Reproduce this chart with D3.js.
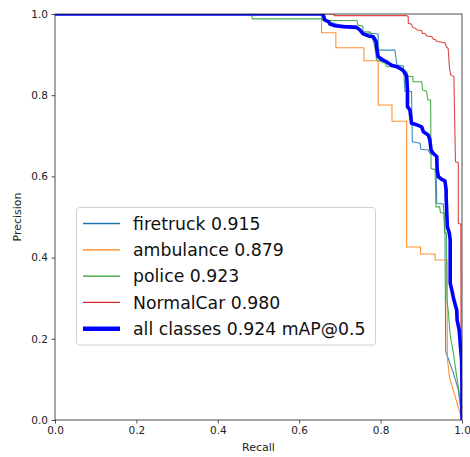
<!DOCTYPE html>
<html>
<head>
<meta charset="utf-8">
<script src="https://cdn.jsdelivr.net/npm/d3@7"></script>
<style>
  body { margin: 0; background: #fff; }
  text { font-family: "DejaVu Sans", sans-serif; }
</style>
</head>
<body>
<div id="chart"></div>
<script>
// values: [recall, precision]
var firetruck = [[0,1],[0.656,1],[0.658,0.985],[0.676,0.980],[0.700,0.973],[0.742,0.970],[0.754,0.953],[0.782,0.952],[0.794,0.951],[0.794,0.911],[0.835,0.911],[0.838,0.891],[0.840,0.874],[0.856,0.872],[0.860,0.809],[0.876,0.809],[0.878,0.685],[0.897,0.682],[0.899,0.667],[0.917,0.665],[0.921,0.657],[0.936,0.653],[0.938,0.534],[0.954,0.532],[0.958,0.476],[0.960,0.167],[0.966,0.152],[0.979,0.115],[0.991,0.074],[1,0]];
var ambulance = [[0,1],[0.655,1],[0.655,0.954],[0.690,0.954],[0.690,0.917],[0.759,0.917],[0.759,0.885],[0.794,0.885],[0.794,0.776],[0.828,0.776],[0.828,0.736],[0.864,0.736],[0.864,0.426],[0.898,0.426],[0.898,0.409],[0.934,0.409],[0.934,0.394],[0.963,0.394],[0.964,0.153],[0.969,0.106],[1,0]];
var police = [[0,1],[0.483,1],[0.485,0.988],[0.654,0.988],[0.661,0.984],[0.742,0.984],[0.744,0.973],[0.756,0.970],[0.757,0.956],[0.774,0.956],[0.778,0.948],[0.786,0.919],[0.790,0.887],[0.811,0.879],[0.815,0.870],[0.831,0.870],[0.852,0.866],[0.864,0.858],[0.868,0.846],[0.879,0.846],[0.880,0.833],[0.901,0.833],[0.903,0.813],[0.913,0.810],[0.916,0.788],[0.923,0.788],[0.924,0.620],[0.934,0.616],[0.936,0.525],[0.945,0.525],[0.947,0.511],[0.956,0.510],[0.957,0.463],[0.962,0.460],[0.963,0.296],[0.966,0.271],[0.971,0.209],[0.979,0.164],[0.987,0.107],[0.997,0.041],[1,0]];
var normalCar = [[0,1],[0.686,1],[0.686,0.996],[0.864,0.996],[0.868,0.993],[0.868,0.977],[0.876,0.975],[0.879,0.967],[0.885,0.965],[0.889,0.961],[0.901,0.959],[0.903,0.952],[0.909,0.952],[0.913,0.946],[0.926,0.944],[0.930,0.938],[0.936,0.936],[0.939,0.932],[0.958,0.929],[0.962,0.919],[0.966,0.915],[0.969,0.870],[0.972,0.850],[0.980,0.846],[0.984,0.636],[0.991,0.634],[0.991,0.484],[0.997,0.483],[0.998,0.012],[1,0]];
var allClasses = [[0,1],[0.656,1],[0.659,0.998],[0.663,0.985],[0.672,0.981],[0.676,0.975],[0.688,0.971],[0.708,0.969],[0.741,0.967],[0.749,0.961],[0.757,0.951],[0.770,0.946],[0.782,0.944],[0.789,0.932],[0.790,0.919],[0.794,0.895],[0.803,0.888],[0.813,0.883],[0.827,0.874],[0.840,0.870],[0.848,0.866],[0.854,0.862],[0.860,0.854],[0.864,0.846],[0.866,0.813],[0.866,0.772],[0.872,0.764],[0.876,0.731],[0.889,0.727],[0.901,0.722],[0.905,0.710],[0.917,0.702],[0.921,0.690],[0.924,0.665],[0.929,0.657],[0.938,0.649],[0.939,0.616],[0.942,0.599],[0.950,0.593],[0.958,0.589],[0.961,0.567],[0.961,0.550],[0.964,0.476],[0.969,0.460],[0.971,0.443],[0.971,0.337],[0.975,0.320],[0.980,0.296],[0.987,0.271],[0.988,0.246],[0.993,0.222],[0.997,0.172],[0.999,0.148],[1,0.081],[1,0]];

var classNames = ["firetruck", "ambulance", "police", "NormalCar"];
var classAP = [0.915, 0.879, 0.923, 0.980];
var mAP = 0.924;
var tickValues = [0, 0.2, 0.4, 0.6, 0.8, 1.0];

var colorPalette = ["#1f77b4", "#ff7f0e", "#2ca02c", "#d62728"];
var classCurves = [firetruck, ambulance, police, normalCar];

var width = 470, height = 457;
var margin = { top: 14, right: 8, bottom: 37, left: 55 };

var svg = d3.select("#chart")
    .append("svg")
    .attr("width", width)
    .attr("height", height);

var x = d3.scaleLinear().domain([0, 1]).range([margin.left, width - margin.right]);
var y = d3.scaleLinear().domain([0, 1]).range([height - margin.bottom, margin.top]);

svg.append("clipPath")
    .attr("id", "plotclip")
    .append("rect")
    .attr("x", x(0)).attr("y", y(1))
    .attr("width", x(1) - x(0)).attr("height", y(0) - y(1));

var line = d3.line()
    .x(d => x(d[0]))
    .y(d => y(d[1]));

var plot = svg.append("g").attr("clip-path", "url(#plotclip)");

// per class curves
plot.selectAll(".classline")
    .data(classCurves)
    .join("path")
    .attr("class", "classline")
    .attr("d", d => line(d))
    .attr("fill", "none")
    .attr("stroke", (d, i) => colorPalette[i])
    .attr("stroke-width", 1.1)
    .attr("stroke-opacity", 0.85);

// all classes
plot.append("path")
    .attr("d", line(allClasses))
    .attr("fill", "none")
    .attr("stroke", "#0000ff")
    .attr("stroke-width", 3.6)
    .attr("stroke-linejoin", "round");

// axes
var xAxis = svg.append("g")
    .attr("transform", "translate(0," + y(0) + ")")
    .call(d3.axisBottom(x).tickValues(tickValues).tickFormat(d3.format(".1f")).tickSize(3.5).tickPadding(3));
var yAxis = svg.append("g")
    .attr("transform", "translate(" + x(0) + ",0)")
    .call(d3.axisLeft(y).tickValues(tickValues).tickFormat(d3.format(".1f")).tickSize(3.5).tickPadding(3.5));

[xAxis, yAxis].forEach(function (a) {
    a.select(".domain").remove();
    a.selectAll("text").style("font-size", "10.5px").attr("fill", "#222");
    a.selectAll("line").attr("stroke", "#222").attr("stroke-width", 0.8);
});

// frame
svg.append("rect")
    .attr("x", x(0)).attr("y", y(1))
    .attr("width", x(1) - x(0)).attr("height", y(0) - y(1))
    .attr("fill", "none")
    .attr("stroke", "#222")
    .attr("stroke-width", 0.8);

svg.append("text")
    .attr("x", (x(0) + x(1)) / 2)
    .attr("y", 451)
    .attr("text-anchor", "middle")
    .style("font-size", "11px")
    .attr("fill", "#222")
    .text("Recall");

svg.append("text")
    .attr("transform", "translate(21," + ((y(0) + y(1)) / 2) + ") rotate(-90)")
    .attr("text-anchor", "middle")
    .style("font-size", "11px")
    .attr("fill", "#222")
    .text("Precision");

// legend
var legendItems = classNames.map((n, i) => ({ label: n + " " + classAP[i].toFixed(3), color: colorPalette[i], w: 1.3 }));
legendItems.push({ label: "all classes " + mAP.toFixed(3) + " mAP@0.5", color: "#0000ff", w: 4.5 });

var legend = svg.append("g");
legend.append("rect")
    .attr("x", 76.5).attr("y", 207.5)
    .attr("width", 299).attr("height", 137.5)
    .attr("rx", 3).attr("ry", 3)
    .attr("fill", "#fff")
    .attr("fill-opacity", 0.8)
    .attr("stroke", "#d0d0d0")
    .attr("stroke-width", 1);

var rowH = 26.3;
legend.selectAll(".lh")
    .data(legendItems)
    .join("line")
    .attr("x1", 83).attr("x2", 120)
    .attr("y1", (d, i) => 223.5 + i * rowH)
    .attr("y2", (d, i) => 223.5 + i * rowH)
    .attr("stroke", d => d.color)
    .attr("stroke-width", d => d.w);

legend.selectAll(".lt")
    .data(legendItems)
    .join("text")
    .attr("x", 133)
    .attr("y", (d, i) => 223.5 + i * rowH)
    .attr("dy", "0.36em")
    .style("font-size", "17.3px")
    .attr("fill", "#111")
    .text(d => d.label);
</script>
</body>
</html>
